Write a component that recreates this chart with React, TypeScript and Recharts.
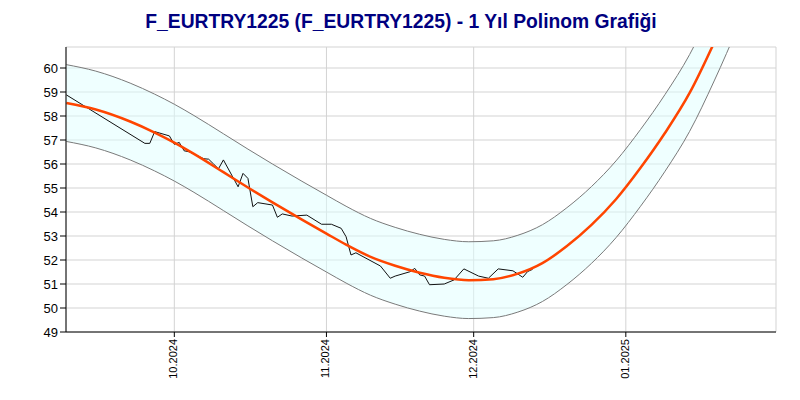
import {
  Area,
  CartesianGrid,
  ComposedChart,
  Line,
  XAxis,
  YAxis,
} from "recharts";

const TITLE = "F_EURTRY1225 (F_EURTRY1225) - 1 Yıl Polinom Grafiği";

// günlük kapanışlar
const priceDates = [
  "2024-09-09", "2024-09-25", "2024-09-26", "2024-09-27", "2024-09-30",
  "2024-10-01", "2024-10-02", "2024-10-03", "2024-10-04", "2024-10-07",
  "2024-10-08", "2024-10-09", "2024-10-10", "2024-10-11", "2024-10-14",
  "2024-10-15", "2024-10-16", "2024-10-17", "2024-10-18", "2024-10-21",
  "2024-10-22", "2024-10-23", "2024-10-25", "2024-10-28", "2024-10-31",
  "2024-11-02", "2024-11-04", "2024-11-05", "2024-11-06", "2024-11-07",
  "2024-11-12", "2024-11-14", "2024-11-15", "2024-11-18", "2024-11-19",
  "2024-11-20", "2024-11-21", "2024-11-22", "2024-11-25", "2024-11-27",
  "2024-11-29", "2024-12-02", "2024-12-04", "2024-12-06", "2024-12-09",
  "2024-12-11", "2024-12-12", "2024-12-13",
];
const priceValues = [
  58.88, 56.86, 56.86, 57.35, 57.17,
  56.82, 56.9, 56.55, 56.51, 56.22,
  56.2, 56.0, 55.8, 56.17, 55.05,
  55.61, 55.4, 54.22, 54.39, 54.29,
  53.78, 53.92, 53.83, 53.87, 53.49,
  53.49, 53.32, 52.97, 52.21, 52.3,
  51.75, 51.24, 51.33, 51.51, 51.65,
  51.38, 51.33, 50.97, 51.0, 51.17,
  51.63, 51.33, 51.24, 51.63, 51.55,
  51.28, 51.52, 51.61,
];

// polinom eğrisi ve bant
const fitDates = [
  "2024-09-09", "2024-09-15", "2024-09-22", "2024-09-27", "2024-10-01",
  "2024-10-05", "2024-10-11", "2024-10-16", "2024-10-21", "2024-10-27",
  "2024-11-01", "2024-11-05", "2024-11-10", "2024-11-15", "2024-11-20",
  "2024-11-25", "2024-11-30", "2024-12-05", "2024-12-10", "2024-12-15",
  "2024-12-20", "2024-12-25", "2024-12-30", "2025-01-04", "2025-01-09",
  "2025-01-14", "2025-01-19", "2025-01-24", "2025-01-29",
];
const fitValues = [
  58.54, 58.27, 57.77, 57.31, 56.89,
  56.42, 55.66, 55.02, 54.4, 53.68,
  53.1, 52.64, 52.13, 51.76, 51.47,
  51.26, 51.16, 51.2, 51.43, 51.87,
  52.58, 53.46, 54.53, 55.84, 57.3,
  58.96, 61.06, 63.4, 66.0,
];
const bandUpper = [
  60.14, 59.87, 59.37, 58.91, 58.49,
  58.02, 57.26, 56.62, 56.0, 55.28,
  54.7, 54.24, 53.73, 53.36, 53.07,
  52.86, 52.76, 52.8, 53.03, 53.47,
  54.18, 55.06, 56.13, 57.44, 58.9,
  60.56, 62.66, 65.0, 67.6,
];
const bandLower = [
  56.94, 56.67, 56.17, 55.71, 55.29,
  54.82, 54.06, 53.42, 52.8, 52.08,
  51.5, 51.04, 50.53, 50.16, 49.87,
  49.66, 49.56, 49.6, 49.83, 50.27,
  50.98, 51.86, 52.93, 54.24, 55.7,
  57.36, 59.46, 61.8, 64.4,
];

const monthTicks = ["2024-10-01", "2024-11-01", "2024-12-01", "2025-01-01"];
const monthLabels = ["10.2024", "11.2024", "12.2024", "01.2025"];
const yTicks = [49, 50, 51, 52, 53, 54, 55, 56, 57, 58, 59, 60];

const BASE = Date.parse("2024-10-01");
const toDay = (s: string) => (Date.parse(s) - BASE) / 86400000;

const priceData = priceDates.map((d, i) => ({ day: toDay(d), price: priceValues[i] }));
const fitData = fitDates.map((d, i) => ({
  day: toDay(d),
  fit: fitValues[i],
  hi: bandUpper[i],
  lo: bandLower[i],
}));
const tickDays = monthTicks.map(toDay);

const FONT = "'Liberation Sans', Arial, sans-serif";

function MonthTick(props: any) {
  const { x, y, payload } = props;
  const idx = tickDays.indexOf(payload.value);
  return (
    <text
      x={x}
      y={y}
      transform={`rotate(-90 ${x} ${y})`}
      textAnchor="end"
      dominantBaseline="central"
      dy={-1}
      fill="#000"
      fontSize={11}
      fontFamily={FONT}
    >
      {monthLabels[idx]}
    </text>
  );
}

export default function App() {
  return (
    <div style={{ position: "absolute", left: 0, top: 0, width: 800, height: 400, background: "#fff" }}>
      <div
        style={{
          position: "absolute",
          left: 0,
          top: 11,
          width: 802,
          textAlign: "center",
          fontFamily: FONT,
          fontWeight: "bold",
          fontSize: 19.3,
          color: "#000080",
          lineHeight: "22px",
        }}
      >
        {TITLE}
      </div>
      <ComposedChart width={800} height={400} margin={{ top: 47, right: 24, left: 0, bottom: 0 }}>
        <CartesianGrid stroke="#d3d3d3" />
        <XAxis
          type="number"
          dataKey="day"
          domain={[-22.07, 122.6]}
          ticks={tickDays}
          interval={0}
          allowDataOverflow
          height={68}
          tick={(p: any) => <MonthTick {...p} />}
          tickLine={{ stroke: "#000" }}
          axisLine={{ stroke: "#000" }}
          tickSize={5}
        />
        <YAxis
          type="number"
          domain={[49, 60.875]}
          ticks={yTicks}
          interval={0}
          allowDataOverflow
          width={66}
          tick={{ fill: "#000", fontSize: 13, fontFamily: FONT }}
          tickLine={{ stroke: "#000" }}
          axisLine={{ stroke: "#000" }}
          tickSize={6}
        />
        <Area
          data={fitData}
          dataKey={(d: any) => [d.lo, d.hi]}
          type="monotone"
          stroke="none"
          fill="#e0ffff"
          fillOpacity={0.5}
          isAnimationActive={false}
        />
        <Line data={fitData} dataKey="hi" type="monotone" stroke="#7a7a7a" strokeWidth={1} dot={false} isAnimationActive={false} />
        <Line data={fitData} dataKey="lo" type="monotone" stroke="#7a7a7a" strokeWidth={1} dot={false} isAnimationActive={false} />
        <Line data={priceData} dataKey="price" type="linear" stroke="#111" strokeWidth={1} dot={false} isAnimationActive={false} />
        <Line data={fitData} dataKey="fit" type="monotone" stroke="#ff4500" strokeWidth={2.5} dot={false} isAnimationActive={false} />
      </ComposedChart>
    </div>
  );
}
